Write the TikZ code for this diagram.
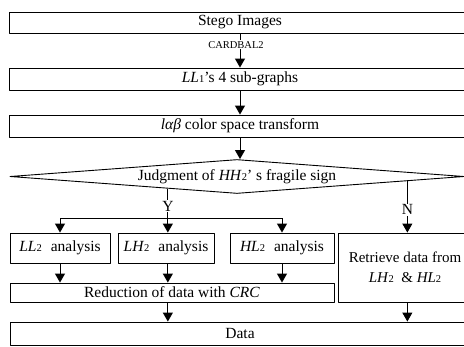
\documentclass[tikz,border=0pt]{standalone}
\usepackage{fontspec}
\setmainfont{Liberation Serif}
\usetikzlibrary{arrows.meta,shapes.geometric,calc}
\newcommand\idx[2]{\textit{#1}{\fontsize{10.5}{10}\selectfont #2}}
\tikzset{
  box/.style={draw, line width=0.9pt, inner sep=0pt},
  arr/.style={-{Triangle[width=10pt,length=9pt]}, line width=0.9pt},
  lbl/.style={fill=white, inner sep=1pt},
}
\begin{document}
\begin{tikzpicture}[x=1pt, y=-1pt, font=\fontsize{15.5}{20}\selectfont, line join=round]
  \useasboundingbox (0,0) rectangle (464,346);
  \clip (0,0) rectangle (464,346);
  % main column
  \node[box, minimum width=462pt, minimum height=21pt] (stego) at (240,22.5) {Stego Images};
  \node[box, minimum width=462pt, minimum height=22pt] (ll1) at (240,79) {\idx{LL}{1}'s 4 sub-graphs};
  \node[box, minimum width=462pt, minimum height=22pt] (lab) at (240,126) {\textit{lαβ} color space transform};
  \node[draw, diamond, aspect=13, line width=0.9pt, inner sep=0pt, minimum width=454pt, minimum height=34pt] (dia) at (237,176.5) {Judgment of \idx{HH}{2}' s fragile sign};
  % branches
  \node[box, minimum width=100pt, minimum height=30pt] (ll2) at (60,248) {\idx{LL}{2}\hspace{9pt}analysis};
  \node[box, minimum width=96pt, minimum height=30pt] (lh2) at (166,248) {\idx{LH}{2}\hspace{9pt}analysis};
  \node[box, minimum width=104pt, minimum height=30pt] (hl2) at (282,248) {\idx{HL}{2}\hspace{9pt}analysis};
  \node[box, minimum width=134pt, minimum height=69pt, align=center, font=\fontsize{15}{20}\selectfont] (retr) at (405,267.5) {Retrieve data from\\\idx{LH}{2} \ \&\ \idx{HL}{2}};
  \node[box, minimum width=324pt, minimum height=19pt] (red) at (172,292.5) {Reduction of data with \textit{CRC}};
  \node[box, minimum width=460pt, minimum height=23pt] (data) at (240,333.5) {Data};
  % connectors
  \draw[arr] (stego) -- node[lbl, pos=0.33, xshift=-4pt, font=\fontsize{10.5}{12}\selectfont]{CARDBAL2} (ll1);
  \draw[arr] (ll1) -- (lab);
  \draw[arr] (lab.south) -- (lab.south |- dia.north);
  \coordinate (ytop) at ($(dia.west)!0.696!(dia.south)$);
  \coordinate (ntop) at ($(dia.south)!0.749!(dia.east)$);
  \coordinate (br) at (ytop |- 0,218);
  \draw[line width=0.9pt] (ytop) -- node[lbl, pos=0.6]{Y} (br);
  \draw[line width=0.9pt] (ll2.north |- br) -- (hl2.north |- br);
  \draw[arr] (ll2.north |- br) -- (ll2);
  \draw[arr] (br) -- (br |- lh2.north);
  \draw[arr] (hl2.north |- br) -- (hl2);
  \draw[arr] (ntop) -- node[lbl, pos=0.56]{N} (ntop |- retr.north);
  \draw[arr] (ll2) -- (ll2 |- red.north);
  \draw[arr] (br |- lh2.south) -- (br |- red.north);
  \draw[arr] (hl2) -- (hl2 |- red.north);
  \draw[arr] (br |- red.south) -- (br |- data.north);
  \draw[arr] (ntop |- retr.south) -- (ntop |- data.north);
\end{tikzpicture}
\end{document}
